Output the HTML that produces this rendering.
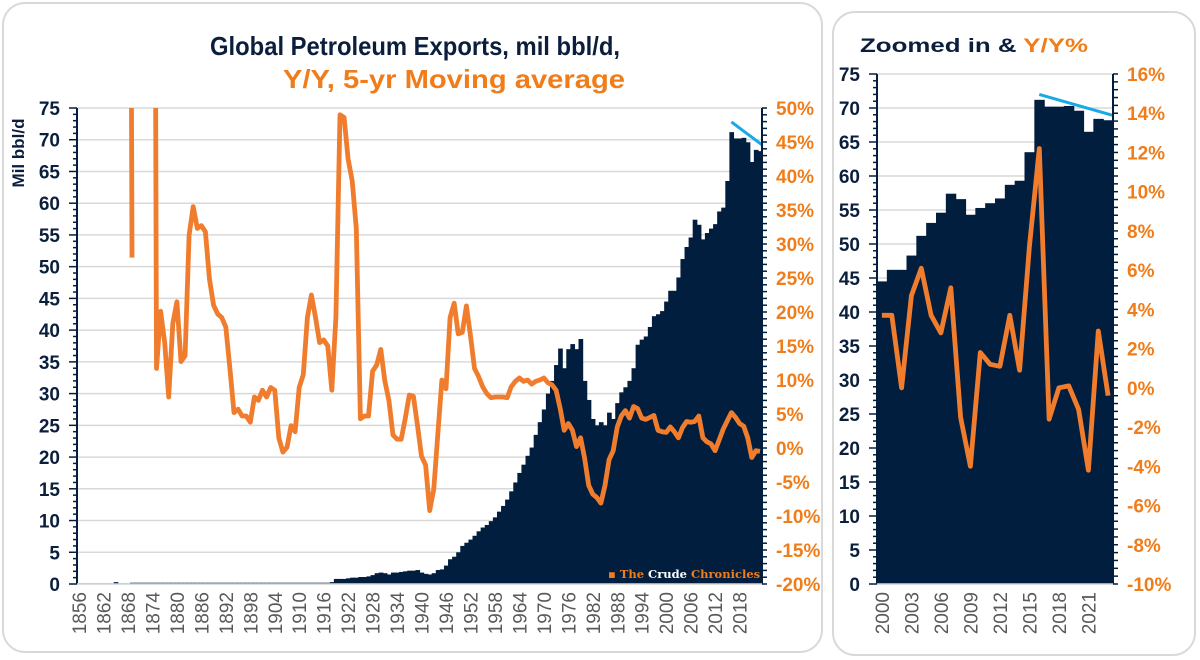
<!DOCTYPE html>
<html><head><meta charset="utf-8"><style>
html,body{margin:0;padding:0;background:#fff;width:1200px;height:660px;overflow:hidden}
svg{display:block;font-family:"Liberation Sans",Arial,sans-serif}
</style></head><body>
<svg id="chart" width="1200" height="660" viewBox="0 0 1200 660">
<rect x="3" y="3" width="819" height="649" rx="22" fill="#fff" stroke="#d9d9d9" stroke-width="2"/>
<rect x="833" y="12" width="362" height="643" rx="22" fill="#fff" stroke="#d9d9d9" stroke-width="2"/>
<text x="415" y="55" text-anchor="middle" font-size="26" font-weight="bold" fill="#0b1f3d" textLength="410" lengthAdjust="spacingAndGlyphs">Global Petroleum Exports, mil bbl/d,</text>
<text x="454" y="88" text-anchor="middle" font-size="26" font-weight="bold" fill="#f07d1a" textLength="342" lengthAdjust="spacingAndGlyphs">Y/Y, 5-yr Moving average</text>
<text x="974" y="52" text-anchor="middle" font-size="19" font-weight="bold" textLength="228" lengthAdjust="spacingAndGlyphs"><tspan fill="#0b1f3d">Zoomed in &amp; </tspan><tspan fill="#f07d1a">Y/Y%</tspan></text>
<text transform="translate(24,153) rotate(-90)" text-anchor="middle" font-size="17" font-weight="bold" fill="#0b1f3d">Mil bbl/d</text>
<defs>
<clipPath id="clipMain"><rect x="77" y="108" width="685" height="477"/></clipPath>
<clipPath id="clipZoom"><rect x="877" y="74" width="236" height="511"/></clipPath>
</defs>
<g id="main"></g>
<g id="zoom"></g>
<text x="608" y="578" font-family="'DejaVu Serif','Liberation Serif',serif" font-size="11.5" font-weight="bold"><tspan fill="#f07d1a">▪ The </tspan><tspan fill="#ffffff">Crude </tspan><tspan fill="#f07d1a">Chronicles</tspan></text>
</svg>
<script>
// ---- data ----
const years = [];
for (let y = 1856; y <= 2023; y++) years.push(y);
const exportsMbd = [
0.1,0.1,0.1,0.1,0.1,0.1,0.1,0.1,0.1,0.3,0.1,0.1,0.1,0.2,0.2,0.2,0.2,0.2,0.2,0.2,
0.2,0.2,0.2,0.2,0.2,0.2,0.2,0.2,0.2,0.2,0.2,0.2,0.2,0.2,0.2,0.2,0.2,0.2,0.2,0.2,
0.2,0.2,0.2,0.2,0.2,0.2,0.2,0.2,0.2,0.2,0.2,0.2,0.2,0.2,0.2,0.2,0.2,0.2,0.2,0.2,
0.2,0.2,0.3,0.8,0.8,0.8,0.9,1.0,1.0,1.1,1.1,1.2,1.4,1.7,1.8,1.7,1.5,1.8,1.8,1.9,
2.0,2.1,2.1,2.2,1.8,1.6,1.5,1.7,2.2,2.3,2.9,3.9,4.3,5.0,6.0,6.5,7.0,7.6,8.3,8.9,
9.3,9.9,10.5,11.4,12.3,13.3,14.6,16.0,17.5,18.8,20.2,21.5,23.5,25.5,27.5,30.0,32.0,34.5,37.1,34.0,
37.0,37.8,37.0,38.6,32.0,29.0,26.0,25.0,25.5,25.0,27.0,26.0,28.5,30.2,31.0,32.0,34.0,37.7,38.5,39.0,
40.5,42.2,42.5,43.0,44.5,46.2,46.2,48.3,51.2,53.1,54.6,57.4,56.6,54.3,55.3,56.0,56.7,58.7,59.3,63.5,
71.2,70.2,70.2,70.3,69.6,66.5,68.4,68.2];
const maYears = [];
for (let y = 1868; y <= 2023; y++) maYears.push(y);
const yoy5yrMA = [
200,28,null,null,null,null,200,11.7,20.1,15.5,7.5,18.3,21.5,12.7,13.6,31.3,35.5,32.3,32.7,31.8,
24.8,21,19.7,19.2,17.8,11.7,5.2,5.7,4.7,4.7,3.8,7.5,7,8.5,7.5,8.9,8.5,1.5,-0.6,0.1,
3.3,2.4,8.9,10.8,19.2,22.5,19.2,15.5,15.9,15,8.5,19.2,49,48.6,42.5,39.3,32.3,4.3,4.7,4.7,
11.3,12.2,14.5,9.9,7,1.9,1.3,1.3,4.3,7.8,7.6,3.3,-1.2,-2.5,-9.2,-6,2,10,8.7,19.2,
21.3,16.8,17,20.9,16.5,11.7,10.5,9,8,7.4,7.5,7.5,7.5,7.4,9,9.8,10.3,9.8,10,9.4,
9.8,10,10.3,9.6,9.3,8.5,5.8,2.6,3.6,2.6,0.2,1.5,-1.5,-5.5,-6.8,-7.3,-8.1,-5.5,-1.7,-0.4,
3.1,4.7,5.5,4.4,6.1,5.8,4.4,4.2,4.5,4.8,2.6,2.4,2.3,3.1,2.4,1.5,3,3.9,3.8,3.9,
4.7,1.5,0.9,0.6,-0.4,1.2,2.8,4,5.2,4.5,3.6,3.2,1.5,-1.4,-0.4,-0.5];
const zoomYears = [2000,2001,2002,2003,2004,2005,2006,2007,2008,2009,2010,2011,2012,2013,2014,2015,2016,2017,2018,2019,2020,2021,2022,2023];
const zoomYoY = [3.7,3.7,0,4.7,6.1,3.7,2.8,5.1,-1.5,-4,1.8,1.2,1.1,3.7,0.9,7.2,12.2,-1.6,0,0.1,-1.1,-4.2,2.9,-0.4];
const trendMain = [[2016,72.8],[2023,69.2]];
const trendZoom = [[2016,72.0],[2023,68.9]];
const leftTicks = [0,5,10,15,20,25,30,35,40,45,50,55,60,65,70,75];
const rightTicksMain = [-20,-15,-10,-5,0,5,10,15,20,25,30,35,40,45,50];
const rightTicksZoom = [-10,-8,-6,-4,-2,0,2,4,6,8,10,12,14,16];

const NS = 'http://www.w3.org/2000/svg';
const NAVY = '#021e3f', ORANGE = '#f07d2e', BLUE = '#19a9e6';
function mk(parent, tag, attrs) {
  const e = document.createElementNS(NS, tag);
  for (const k in attrs) e.setAttribute(k, attrs[k]);
  parent.appendChild(e);
  return e;
}

function drawPanel(g, cfg) {
  const n = cfg.cats.length;
  const bw = (cfg.x1 - cfg.x0) / n;
  const xC = i => cfg.x0 + bw * (i + 0.5);
  const xYear = yr => xC(cfg.cats.indexOf(yr));
  const yL = v => cfg.y0 - (v - 0) / 75 * (cfg.y0 - cfg.y1);
  const yR = p => cfg.y0 - (p - cfg.rMin) / (cfg.rMax - cfg.rMin) * (cfg.y0 - cfg.y1);
  cfg.lTicks.forEach(t => {
    const l = mk(g, 'line', {x1: cfg.x0, x2: cfg.x1, y1: yL(t), y2: yL(t), stroke: '#d9d9d9', 'stroke-width': 1.5});
    
    
  });
  cfg.vals.forEach((v, i) => {
    const r = mk(g, 'rect', {x: cfg.x0 + bw * i, y: yL(v), width: bw + 0.6, height: Math.max(0, yL(0) - yL(v)), fill: NAVY});
    
    
  });
  let d = '', pen = false;
  cfg.lineVals.forEach((p, i) => {
    if (p === null) { pen = false; return; }
    const x = xYear(cfg.lineCats[i]), y = yR(p);
    d += (pen ? 'L' : 'M') + x.toFixed(1) + ',' + y.toFixed(1);
    pen = true;
  });
  const path = mk(g, 'path', {d: d, fill: 'none', stroke: ORANGE, 'stroke-width': 4.8, 'stroke-linejoin': 'round', 'clip-path': cfg.clip});
  
  
  const tr = mk(g, 'line', {x1: xYear(cfg.trend[0][0]), y1: yL(cfg.trend[0][1]), x2: cfg.x1, y2: yL(cfg.trend[1][1]), stroke: BLUE, 'stroke-width': 3});
  
  
  const axL = mk(g, 'line', {x1: cfg.x0, x2: cfg.x0, y1: cfg.y1, y2: cfg.y0, stroke: NAVY, 'stroke-width': 2});
  
  
  const axR = mk(g, 'line', {x1: cfg.x1, x2: cfg.x1, y1: cfg.y1, y2: cfg.y0, stroke: NAVY, 'stroke-width': 2});
  
  
  const axB = mk(g, 'line', {x1: cfg.x0, x2: cfg.x1, y1: cfg.y0, y2: cfg.y0, stroke: '#d9d9d9', 'stroke-width': 1.5});
  
  
  for (let v = 0; v <= 75; v++) {
    const major = v % 5 === 0;
    mk(g, 'line', {x1: cfg.x0 - (major ? 8 : 4), x2: cfg.x0, y1: yL(v), y2: yL(v), stroke: NAVY, 'stroke-width': 1.5});
  }
  for (let p = cfg.rMin; p <= cfg.rMax + 1e-9; p += cfg.rMinor) {
    mk(g, 'line', {x1: cfg.x1, x2: cfg.x1 + 5, y1: yR(p), y2: yR(p), stroke: NAVY, 'stroke-width': 1.5});
  }
  cfg.lTicks.forEach(t => {
    const tx = mk(g, 'text', {x: cfg.lLabelX, y: yL(t) + 7, 'text-anchor': 'end', 'font-size': 19, 'font-weight': 'bold', fill: '#0b1f3d'});
    tx.textContent = t;
    
    
  });
  cfg.rTicks.forEach(t => {
    const tx = mk(g, 'text', {x: cfg.x1 + 14, y: yR(t) + 7, 'font-size': 19, 'font-weight': 'bold', fill: '#f07d1a'});
    tx.textContent = t + '%';
    
    
  });
  cfg.cats.forEach((c, i) => {
    if ((c - cfg.cats[0]) % cfg.labelEvery !== 0) return;
    const x = xC(i) + 7;
    const tx = mk(g, 'text', {transform: 'translate(' + x.toFixed(1) + ',' + (cfg.y0 + 8) + ') rotate(-90)', 'text-anchor': 'end', 'font-size': 19, fill: '#595959'});
    tx.textContent = c;
    
    
  });
}

drawPanel(document.getElementById('main'), {
  cats: years, vals: exportsMbd, lineCats: maYears, lineVals: yoy5yrMA, trend: trendMain,
  x0: 77, x1: 762, y0: 584, y1: 108, rMin: -20, rMax: 50, rMinor: 1,
  lTicks: leftTicks, rTicks: rightTicksMain, lLabelX: 60, labelEvery: 6,
  clip: 'url(#clipMain)', lineName: 'yoy-5yr-ma-line'
});
drawPanel(document.getElementById('zoom'), {
  cats: zoomYears, vals: exportsMbd.slice(years.indexOf(2000)), lineCats: zoomYears, lineVals: zoomYoY, trend: trendZoom,
  x0: 877, x1: 1113, y0: 584, y1: 74, rMin: -10, rMax: 16, rMinor: 0.4,
  lTicks: leftTicks, rTicks: rightTicksZoom, lLabelX: 860, labelEvery: 3,
  clip: 'url(#clipZoom)', lineName: 'yoy-line'
});
</script>
</body></html>
